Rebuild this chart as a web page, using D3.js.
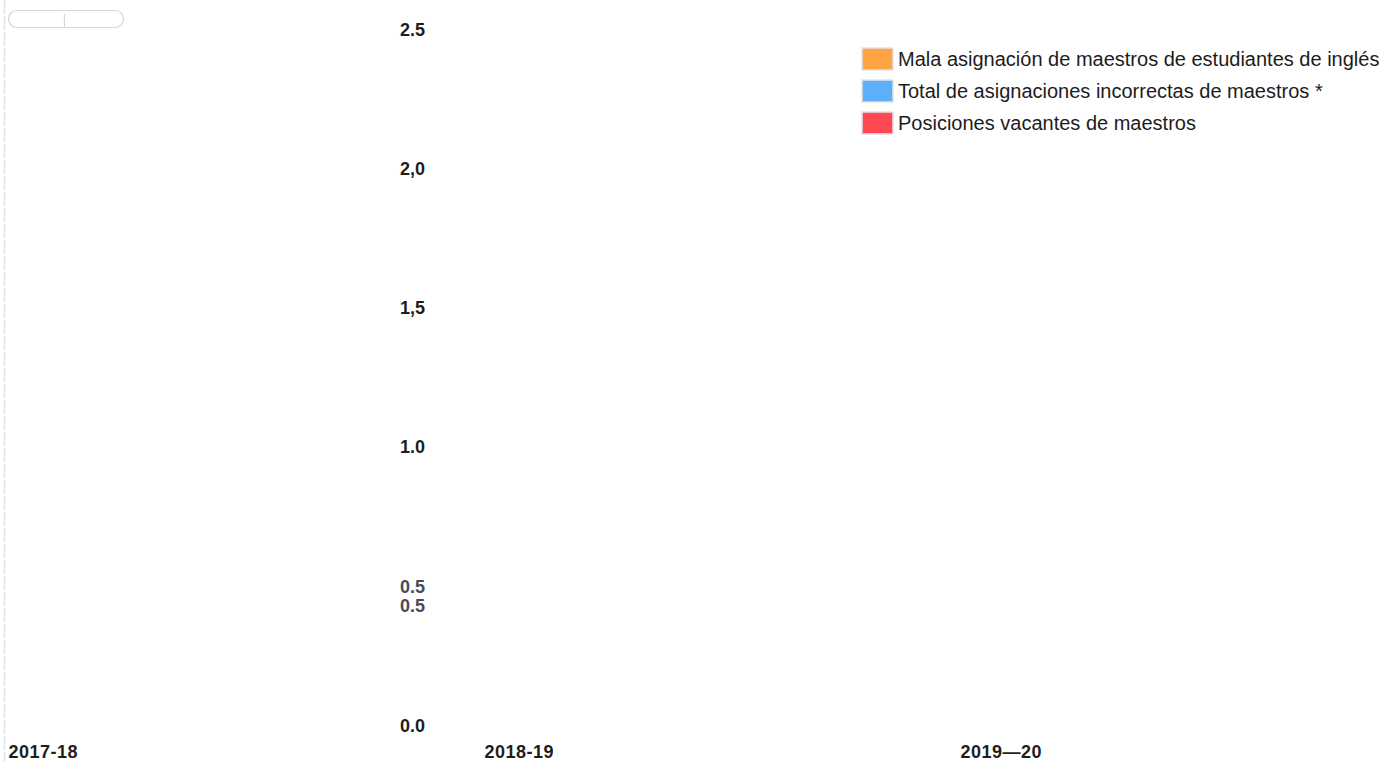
<!DOCTYPE html>
<html><head><meta charset="utf-8">
<script src="https://cdn.jsdelivr.net/npm/d3@7"></script>
<style>
html,body{margin:0;padding:0;background:#fff;}
svg{display:block;font-family:"Liberation Sans",Arial,sans-serif;}
</style></head>
<body>
<svg id="chart" width="1394" height="762"></svg>
<script>
// Data
const categories = ["2017-18", "2018-19", "2019—20"];
const seriesNames = [
  "Mala asignación de maestros de estudiantes de inglés",
  "Total de asignaciones incorrectas de maestros *",
  "Posiciones vacantes de maestros"
];
const seriesColors = ["#ffa444", "#5cb0fa", "#ff4852"];
const elMisassign = [0, 0, 0];
const totalMisassign = [0, 0, 0];
const vacancies = [0, 0, 0];
const yTickValues = [0, 0.43, 0.5, 1.0, 1.5, 2.0, 2.5];
const yTickLabels = ["0.0", "0.5", "0.5", "1.0", "1,5", "2,0", "2.5"];

const svg = d3.select("#chart");
const W = 1394, H = 762;

const x = d3.scalePoint().domain(categories).range([8, 960]);
const y = d3.scaleLinear().domain([0, 2.5]).range([725, 29]);

// faint left border line
svg.append("line").attr("x1", 4.5).attr("x2", 4.5).attr("y1", 0).attr("y2", H)
  .attr("stroke", "#e2e3ec").attr("stroke-width", 1.5).attr("stroke-dasharray", "14,2");

// toggle-like control at top-left
const ctl = svg.append("g");
ctl.append("rect").attr("x", 8.5).attr("y", 10.5).attr("width", 115).attr("height", 17).attr("rx", 8.5)
  .attr("fill", "none").attr("stroke", "#d4d6e2").attr("stroke-width", 1.2);
ctl.append("line").attr("x1", 64.5).attr("x2", 64.5).attr("y1", 14).attr("y2", 27)
  .attr("stroke", "#d4d6e2").attr("stroke-width", 1.2);

// bars (all values zero -> no visible height)
const series = [elMisassign, totalMisassign, vacancies];
const bw = 40;
series.forEach((vals, si) => {
  svg.append("g").selectAll("rect").data(vals).join("rect")
    .attr("x", (d, i) => x(categories[i]) + 100 + si * bw)
    .attr("y", d => y(d))
    .attr("width", bw - 4)
    .attr("height", d => y(0) - y(d))
    .attr("fill", seriesColors[si]);
});

// Y axis labels
const yAxis = d3.axisRight(y).tickValues(yTickValues)
  .tickFormat((d, i) => yTickLabels[i]).tickSize(0).tickPadding(0);
const yg = svg.append("g").attr("transform", "translate(400,0)").call(yAxis);
yg.select(".domain").remove();
yg.selectAll("text").attr("font-size", 18).attr("font-weight", "bold")
  .attr("font-family", "Liberation Sans, Arial, sans-serif")
  .attr("fill", (d, i) => (i === 1 || i === 2) ? "#4a4c58" : "#1e1e1e")
  .attr("dy", "0.35em").attr("text-anchor", "start");

// X axis labels
const xAxis = d3.axisBottom(x).tickSize(0).tickPadding(0);
const xg = svg.append("g").attr("transform", "translate(0,758)").call(xAxis);
xg.select(".domain").remove();
xg.selectAll("text").attr("font-size", 18).attr("font-weight", "bold")
  .attr("font-family", "Liberation Sans, Arial, sans-serif")
  .attr("fill", "#1e1e1e").attr("dy", 0).attr("y", 0).attr("text-anchor", "start")
  .attr("letter-spacing", 0.5);

// Legend
const lg = svg.append("g").attr("transform", "translate(862,48)");
seriesNames.forEach((name, i) => {
  const g = lg.append("g").attr("transform", `translate(0,${i * 32})`);
  g.append("rect").attr("x", 0).attr("y", 0).attr("width", 31).attr("height", 22)
    .attr("fill", seriesColors[i]).attr("stroke", "#e4e2ea").attr("stroke-width", 1.5);
  g.append("text").attr("x", 36).attr("y", 18).text(name)
    .attr("font-size", 20).attr("fill", "#1c1c1c");
});
</script>
</body></html>
